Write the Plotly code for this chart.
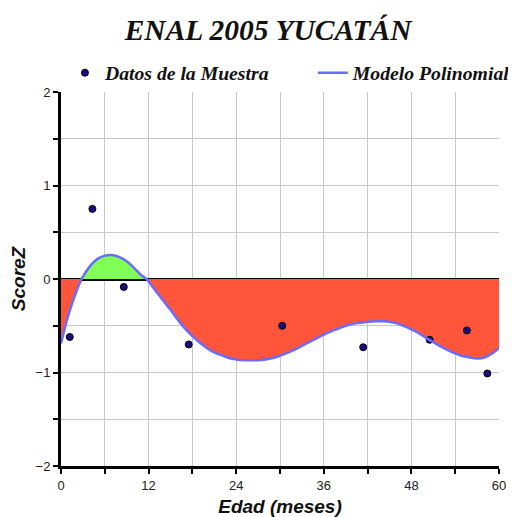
import plotly.graph_objects as go

# Sample data points (Edad en meses, ScoreZ)
muestra_x = [1.2, 4.3, 8.6, 17.5, 30.3, 41.4, 50.5, 55.6, 58.4]
muestra_y = [-0.62, 0.75, -0.085, -0.70, -0.50, -0.73, -0.65, -0.55, -1.01]

# Polynomial model curve
modelo_x = [0, 1, 2, 2.83, 4, 5, 6, 7, 8, 9, 10, 11, 11.7, 13, 14, 15, 16, 17, 18, 19, 20,
            21, 22, 23, 24, 25, 26, 27, 28, 29, 30, 31, 32, 33, 34, 35, 36, 37, 38, 39, 40,
            41, 42, 43, 44, 45, 46, 47, 48, 49, 50, 51, 52, 53, 54, 55, 56, 57, 58, 59, 60]
modelo_y = [-0.69, -0.39, -0.155, 0.0, 0.14, 0.215, 0.25, 0.257, 0.235, 0.19, 0.12, 0.04, 0.0,
            -0.13, -0.23, -0.33, -0.435, -0.53, -0.61, -0.68, -0.74,
            -0.785, -0.815, -0.845, -0.86, -0.868, -0.87, -0.868, -0.86, -0.845, -0.82,
            -0.79, -0.755, -0.715, -0.675, -0.635, -0.595, -0.56, -0.53, -0.50, -0.48,
            -0.467, -0.457, -0.451, -0.452, -0.457, -0.475, -0.505, -0.54, -0.58, -0.63,
            -0.675, -0.72, -0.76, -0.795, -0.825, -0.84, -0.85, -0.84, -0.80, -0.74]

x_ticks = [0, 12, 24, 36, 48, 60]
y_ticks = [-2, -1, 0, 1, 2]

neg_y = [min(v, 0) for v in modelo_y]
pos_x = [x for x, v in zip(modelo_x, modelo_y) if 2.83 <= x <= 11.7]
pos_y = [max(v, 0) for x, v in zip(modelo_x, modelo_y) if 2.83 <= x <= 11.7]

fig = go.Figure()
fig.add_trace(go.Scatter(x=modelo_x, y=neg_y, mode="lines", line=dict(width=0, shape="spline"),
                         fill="tozeroy", fillcolor="#FF553B", showlegend=False, hoverinfo="skip"))
fig.add_trace(go.Scatter(x=pos_x, y=pos_y, mode="lines", line=dict(width=0, shape="spline"),
                         fill="tozeroy", fillcolor="#80FF55", showlegend=False, hoverinfo="skip"))
fig.add_trace(go.Scatter(x=muestra_x, y=muestra_y, mode="markers", name="Datos de la Muestra",
                         legend="legend",
                         marker=dict(size=7, color="#1E0A80", line=dict(color="black", width=1))))
fig.add_trace(go.Scatter(x=modelo_x, y=modelo_y, mode="lines", name="Modelo Polinomial",
                         legend="legend2",
                         line=dict(color="#6B6BFF", width=2.5, shape="spline")))

tickfont = dict(family="Liberation Sans, Arial", size=13, color="#222222")
legfont = dict(family="Liberation Serif, Times New Roman", size=19.7, color="#111111",
               weight="bold", style="italic")

fig.update_layout(
    width=508, height=509,
    margin=dict(l=53, r=17, t=84, b=51, autoexpand=False),
    paper_bgcolor="white", plot_bgcolor="white",
    title=dict(text="ENAL 2005 YUCATÁN", x=0.512, xanchor="center", y=0.957, yanchor="middle",
               font=dict(family="Liberation Serif, Times New Roman", size=29.5, color="#111111",
                         weight="bold", style="italic")),
    legend=dict(orientation="h", x=0.009, xanchor="left", y=1.051, yanchor="middle",
                font=legfont, bgcolor="rgba(0,0,0,0)"),
    legend2=dict(orientation="h", x=0.575, xanchor="left", y=1.051, yanchor="middle",
                 font=legfont, bgcolor="rgba(0,0,0,0)"),
    xaxis=dict(range=[0, 60], tickvals=x_ticks, ticks="outside", ticklen=5, tickwidth=1.5,
               tickcolor="black", showline=True, linecolor="black", linewidth=3,
               showgrid=True, gridcolor="#C8C8C8", gridwidth=1, zeroline=False,
               tickfont=tickfont, automargin=False,
               minor=dict(dtick=6, tick0=0, ticks="outside", ticklen=5, tickcolor="black",
                          showgrid=True, gridcolor="#C8C8C8", gridwidth=1),
               title=dict(text="Edad (meses)", standoff=9,
                          font=dict(family="Liberation Sans, Arial", size=19, color="#111111",
                                    weight="bold", style="italic"))),
    yaxis=dict(range=[-2, 2], tickvals=y_ticks, ticks="outside", ticklen=5, tickwidth=1.5,
               tickcolor="black", showline=True, linecolor="black", linewidth=3,
               showgrid=True, gridcolor="#C8C8C8", gridwidth=1,
               zeroline=True, zerolinecolor="black", zerolinewidth=3,
               layer="above traces", tickfont=tickfont, automargin=False,
               minor=dict(dtick=0.5, tick0=0, ticks="outside", ticklen=5, tickcolor="black",
                          showgrid=True, gridcolor="#C8C8C8", gridwidth=1),
               title=dict(text="ScoreZ", standoff=10,
                          font=dict(family="Liberation Sans, Arial", size=19, color="#111111",
                                    weight="bold", style="italic"))),
)

fig.write_html("out.html")
